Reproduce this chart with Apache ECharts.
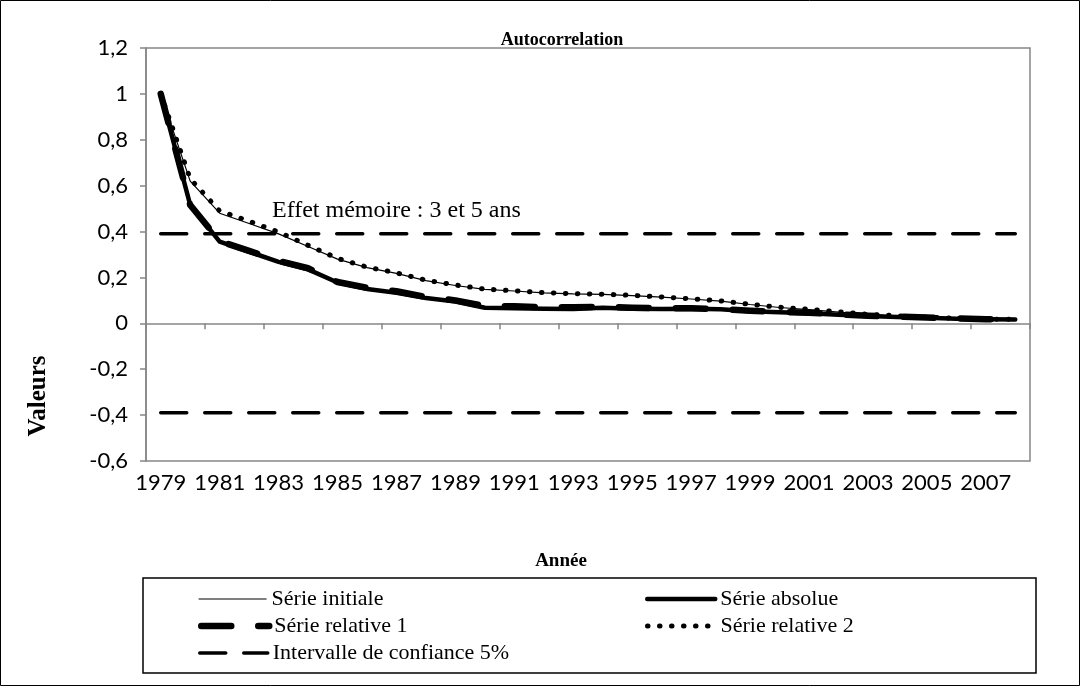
<!DOCTYPE html>
<html>
<head>
<meta charset="utf-8">
<script src="https://cdn.jsdelivr.net/npm/echarts@6/dist/echarts.min.js"></script>
<style>
html,body{margin:0;padding:0;background:#fff;}
#chart{width:1086px;height:688px;}
</style>
</head>
<body>
<div id="chart"></div>
<script>
const years = ['1979','1980','1981','1982','1983','1984','1985','1986','1987','1988','1989','1990','1991','1992','1993','1994','1995','1996','1997','1998','1999','2000','2001','2002','2003','2004','2005','2006','2007','2008'];
const serieInitiale = [1.00,0.62,0.48,0.435,0.39,0.335,0.28,0.243,0.218,0.186,0.165,0.148,0.141,0.133,0.128,0.126,0.121,0.114,0.106,0.097,0.082,0.069,0.060,0.049,0.038,0.032,0.026,0.022,0.019,0.017];
const serieAbsolue = [1.00,0.516,0.356,0.312,0.268,0.235,0.178,0.15,0.133,0.11,0.095,0.068,0.066,0.064,0.063,0.068,0.064,0.062,0.064,0.061,0.053,0.048,0.044,0.037,0.032,0.028,0.024,0.020,0.018,0.017];
const serieRelative1 = [1.00,0.516,0.358,0.316,0.272,0.24,0.18,0.155,0.14,0.115,0.1,0.075,0.075,0.07,0.07,0.072,0.068,0.066,0.066,0.062,0.055,0.05,0.046,0.039,0.033,0.029,0.025,0.021,0.018,0.017];
const serieRelative2 = [1.00,0.63,0.49,0.445,0.398,0.34,0.283,0.245,0.22,0.188,0.167,0.149,0.142,0.134,0.129,0.127,0.122,0.115,0.107,0.098,0.083,0.07,0.061,0.05,0.039,0.033,0.027,0.022,0.019,0.017];
const icHaut = years.map(() => 0.39);
const icBas = years.map(() => -0.39);
const yTicks = {min: -0.6, max: 1.2, step: 0.2};

const serif = '"Liberation Serif", "Times New Roman", serif';
const sans = 'Lato, "Open Sans", sans-serif';
const grey = '#868686';
const IC = 'Intervalle de confiance 5%';

const styles = {
  ic: {color: '#000', width: 3.5, type: [26, 18], cap: 'round'},
  initiale: {color: '#000', width: 1.2},
  rel2: {color: '#000', width: 5, type: [0.5, 11.5], cap: 'round'},
  absolue: {color: '#000', width: 4.5, cap: 'round', join: 'round'},
  rel1: {color: '#000', width: 6.5, type: [30, 27], cap: 'round', join: 'round'}
};

const chart = echarts.init(document.getElementById('chart'), null, {renderer: 'canvas'});

const legendText = {fontFamily: serif, fontSize: 22, color: '#000'};
function legendAt(name, left, top, ls) {
  return {
    data: [name], left: left, top: top, orient: 'horizontal',
    itemWidth: 68, itemHeight: 14, padding: 0, selectedMode: false,
    textStyle: legendText,
    itemStyle: {opacity: 0},
    lineStyle: ls
  };
}

chart.setOption({
  animation: false,
  backgroundColor: '#fff',
  grid: {left: 146, right: 56, top: 48, bottom: 227, show: true, borderColor: grey, borderWidth: 1.5, containLabel: false},
  legend: [
    legendAt('Série initiale', 198, 588, styles.initiale),
    legendAt('Série absolue', 645, 588, styles.absolue),
    legendAt('Série relative 1', 198, 615, styles.rel1),
    legendAt('Série relative 2', 645, 615, styles.rel2),
    legendAt(IC, 198, 642, styles.ic)
  ],
  xAxis: {
    type: 'category', data: years, boundaryGap: true,
    axisLine: {lineStyle: {color: grey, width: 1.5}},
    axisTick: {show: true, interval: 1, length: 6, lineStyle: {color: grey, width: 1.5}},
    axisLabel: {interval: 1, color: '#000', fontFamily: sans, fontSize: 22, margin: 11}
  },
  yAxis: {
    type: 'value', min: yTicks.min, max: yTicks.max, interval: yTicks.step,
    axisLine: {show: true, lineStyle: {color: grey, width: 1.5}},
    axisTick: {show: true, length: 6, lineStyle: {color: grey, width: 1.5}},
    splitLine: {show: false},
    axisLabel: {color: '#000', fontFamily: sans, fontSize: 22, margin: 18,
      formatter: v => String(Math.round(v * 10) / 10).replace('.', ',')}
  },
  graphic: [
    {type: 'rect', shape: {x: 0.5, y: 0.5, width: 1079, height: 685}, style: {fill: 'none', stroke: '#000', lineWidth: 1}, silent: true, z: -1},
    {type: 'rect', shape: {x: 143, y: 578, width: 893, height: 95}, style: {fill: 'none', stroke: '#000', lineWidth: 1.5}, silent: true},
    {type: 'text', x: 562, y: 40, style: {text: 'Autocorrelation', font: 'bold 18px ' + serif, fill: '#000', textAlign: 'center', textVerticalAlign: 'middle'}},
    {type: 'text', x: 561, y: 561, style: {text: 'Année', font: 'bold 19px ' + serif, fill: '#000', textAlign: 'center', textVerticalAlign: 'middle'}},
    {type: 'text', x: 39, y: 396, rotation: Math.PI / 2, style: {text: 'Valeurs', font: 'bold 25px ' + serif, fill: '#000', textAlign: 'center', textVerticalAlign: 'middle'}},
    {type: 'text', x: 272, y: 211, style: {text: 'Effet mémoire : 3 et 5 ans', font: '24px ' + serif, fill: '#000', textAlign: 'left', textVerticalAlign: 'middle'}}
  ],
  series: [
    {name: IC, type: 'line', data: icHaut, symbol: 'none', z: 2, lineStyle: styles.ic},
    {name: IC, type: 'line', data: icBas, symbol: 'none', z: 2, lineStyle: styles.ic},
    {name: 'Série initiale', type: 'line', data: serieInitiale, symbol: 'none', z: 3, lineStyle: styles.initiale},
    {name: 'Série relative 2', type: 'line', data: serieRelative2, symbol: 'none', z: 3, lineStyle: styles.rel2},
    {name: 'Série absolue', type: 'line', data: serieAbsolue, symbol: 'none', z: 4, lineStyle: styles.absolue},
    {name: 'Série relative 1', type: 'line', data: serieRelative1, symbol: 'none', z: 4, lineStyle: styles.rel1}
  ]
});
</script>
</body>
</html>
